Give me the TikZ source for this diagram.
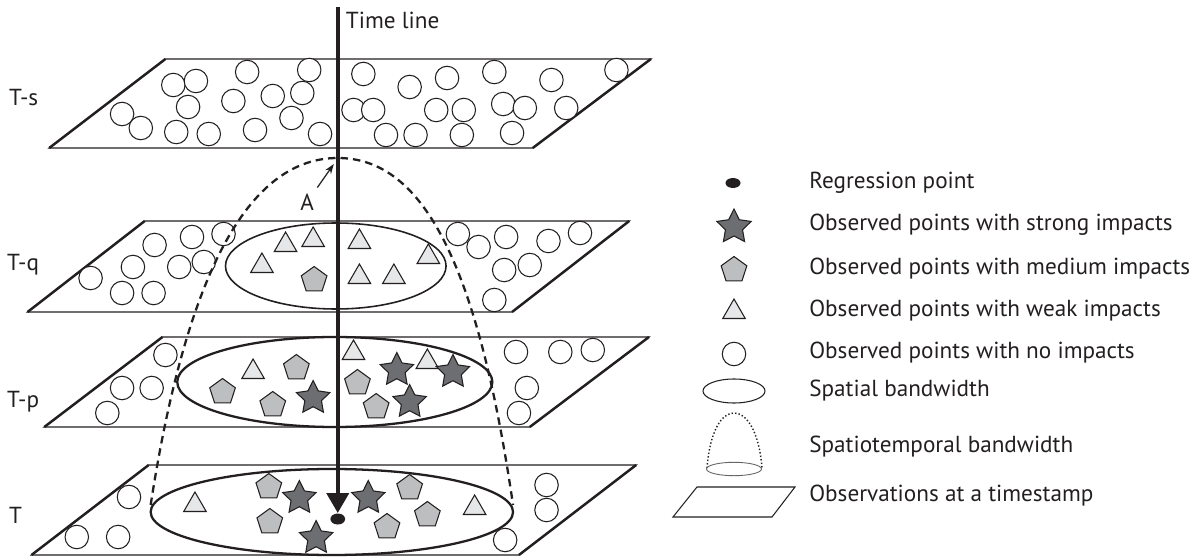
\documentclass[tikz,border=0pt]{standalone}
\usepackage{fontspec}
\setmainfont{PT Sans}
\usetikzlibrary{shapes.geometric,arrows.meta}

\definecolor{inkline}{HTML}{231F20}
\definecolor{strongfill}{HTML}{6D6E71}
\definecolor{medfill}{HTML}{BCBEC0}
\definecolor{weakfill}{HTML}{E6E7E8}

\begin{document}
\begin{tikzpicture}[x=0.02cm,y=-0.02cm,font=\fontsize{13.2}{15}\selectfont,
    plane/.style={draw=inkline,fill=white,line width=0.7pt},
    planeside/.style={draw=inkline,line width=1.4pt},
    obsnone/.style={circle,draw=inkline,fill=white,line width=0.6pt,inner sep=0pt,minimum size=0.47cm},
    obsweak/.style={regular polygon,regular polygon sides=3,draw=inkline,fill=weakfill,line width=0.6pt,inner sep=0pt,minimum size=0.52cm},
    obsmed/.style={regular polygon,regular polygon sides=5,draw=inkline,fill=medfill,line width=0.6pt,inner sep=0pt,minimum size=0.54cm},
    obsstrong/.style={star,star points=5,star point ratio=2,draw=inkline,fill=strongfill,line width=0.6pt,inner sep=0pt,minimum size=0.7cm},
    band/.style={draw=inkline,line width=1.3pt},
    dome/.style={draw=inkline,line width=1.3pt,dash pattern=on 0.15cm off 0.1cm},
    lbl/.style={anchor=west,text=inkline,inner sep=0pt}]
\useasboundingbox (0,0) rectangle (1197,557);

\begin{scope}[x=0.0197cm,xshift=-0.02cm]
\draw[plane] (169,59) -- (662,59) -- (542,148) -- (51,148) -- cycle;
\draw[planeside] (169,59) -- (51,148) (662,59) -- (542,148);
\foreach \p [count=\i] in {(125,114),(144,128),(177,85),(200,81),(192,107),(180,132),(213,134),(252,72),(238,101),(278,96),(308,93),(315,70),(297,118),(260,130),(326,134),(370,74),(417,87),(455,78),(503,72),(561,80),(627,70),(360,110),(380,110),(444,110),(472,110),(512,104),(534,108),(576,108),(393,135),(423,135),(470,135),(521,133)}
    \node[obsnone] (s-\i) at \p {};

\draw[plane] (148,221) -- (640,221) -- (521,312) -- (29,312) -- cycle;
\draw[planeside] (148,221) -- (29,312) (640,221) -- (521,312);
\foreach \p [count=\i] in {(93,278),(158,245),(196,237),(228,234),(136,267),(183,267),(208,262),(125,293),(157,293),(466,234),(487,247),(515,237),(558,241),(590,233),(513,270),(539,265),(503,300)}
    \node[obsnone] (q-\i) at \p {};
\draw[inkline,line width=0.9pt] (342,266) ellipse [x radius=112,y radius=43];
\foreach \p [count=\i] in {(291,245),(319,240),(366,242),(267,266),(436,257),(366,277),(401,277)}
    \node[obsweak] (qw-\i) at \p {};
\node[obsmed] (qm-1) at (320,280) {};

\draw[plane] (166,337) -- (660,337) -- (539,427) -- (46,427) -- cycle;
\draw[planeside] (166,337) -- (46,427) (660,337) -- (539,427);
\foreach \p [count=\i] in {(169,355),(125,388),(155,388),(110,413),(525,352),(570,352),(603,350),(536,388),(528,413)}
    \node[obsnone] (p-\i) at \p {};
\draw[band] (341,382) ellipse [x radius=160,y radius=45];
\foreach \p [count=\i] in {(258,372),(360,353),(435,362)}
    \node[obsweak] (pw-\i) at \p {};
\foreach \p [count=\i] in {(302,368),(227,392),(278,405),(364,383),(383,407)}
    \node[obsmed] (pm-\i) at \p {};
\foreach \p [count=\i] in {(319,398),(404,370),(461,372),(417,402)}
    \node[obsstrong] (ps-\i) at \p {};

\draw[plane] (152,465) -- (647,465) -- (528,555) -- (33,555) -- cycle;
\draw[planeside] (152,465) -- (33,555) (647,465) -- (528,555);
\foreach \p [count=\i] in {(132,497),(79,537),(121,537),(556,485),(556,510),(514,540)}
    \node[obsnone] (t-\i) at \p {};
\draw[band] (338,512) ellipse [x radius=184,y radius=43];
\foreach \p [count=\i] in {(199,505),(483,508)}
    \node[obsweak] (tw-\i) at \p {};
\foreach \p [count=\i] in {(274,487),(275,522),(417,488),(435,515),(394,527)}
    \node[obsmed] (tm-\i) at \p {};
\foreach \p [count=\i] in {(305,498),(375,498),(322,538)}
    \node[obsstrong] (ts-\i) at \p {};

\draw[dome] (154,505) .. controls (192,262) and (258,158) .. (344,158)
    .. controls (430,158) and (486,262) .. (522,505);
\draw[inkline,line width=2.3pt,-{Triangle[length=0.4cm,width=0.44cm]}] (344,7) -- (344,513);
\fill[inkline] (344,519) ellipse [x radius=7.5,y radius=5.5];

\node[lbl] (timelbl) at (352,20) {Time line};
\node[text=inkline] (alabel) at (313,202) {A};
\coordinate (apex) at (340,164);
\draw[inkline,line width=0.7pt,-{Stealth[length=0.2cm,width=0.14cm]}] (alabel) -- (apex);

\node[lbl] (lbl-s) at (10,98) {T-s};
\node[lbl] (lbl-q) at (8,265) {T-q};
\node[lbl] (lbl-p) at (8,402) {T-p};
\node[lbl] (lbl-t) at (10,515) {T};
\end{scope}

\fill[inkline] (733,183) ellipse [x radius=7.5,y radius=5];
\node[obsstrong,minimum size=0.72cm] (key-strong) at (734,227) {};
\node[obsmed] (key-med) at (734,270) {};
\node[obsweak] (key-weak) at (734,312) {};
\node[obsnone] (key-none) at (734,354) {};
\draw[inkline,line width=0.6pt] (734,391) ellipse [x radius=31,y radius=12];
\draw[inkline,line width=0.8pt,dash pattern=on 0.8pt off 1.2pt] (707,468) .. controls (710,430) and (722,413) .. (734,413)
    .. controls (746,413) and (759,430) .. (762,468);
\draw[inkline!70,line width=0.5pt] (734,469) ellipse [x radius=27.5,y radius=6.7];
\draw[inkline,line width=0.6pt] (697,487) -- (795,487) -- (772,517) -- (673,517) -- cycle;

\node[lbl] (txt-reg) at (809,183) {Regression point};
\node[lbl] (txt-strong) at (809,225) {Observed points with strong impacts};
\node[lbl] (txt-med) at (809,269) {Observed points with medium impacts};
\node[lbl] (txt-weak) at (809,311) {Observed points with weak impacts};
\node[lbl] (txt-none) at (809,353) {Observed points with no impacts};
\node[lbl] (txt-spat) at (809,391) {Spatial bandwidth};
\node[lbl] (txt-st) at (809,447) {Spatiotemporal bandwidth};
\node[lbl] (txt-obs) at (809,496) {Observations at a timestamp};
\end{tikzpicture}
\end{document}
